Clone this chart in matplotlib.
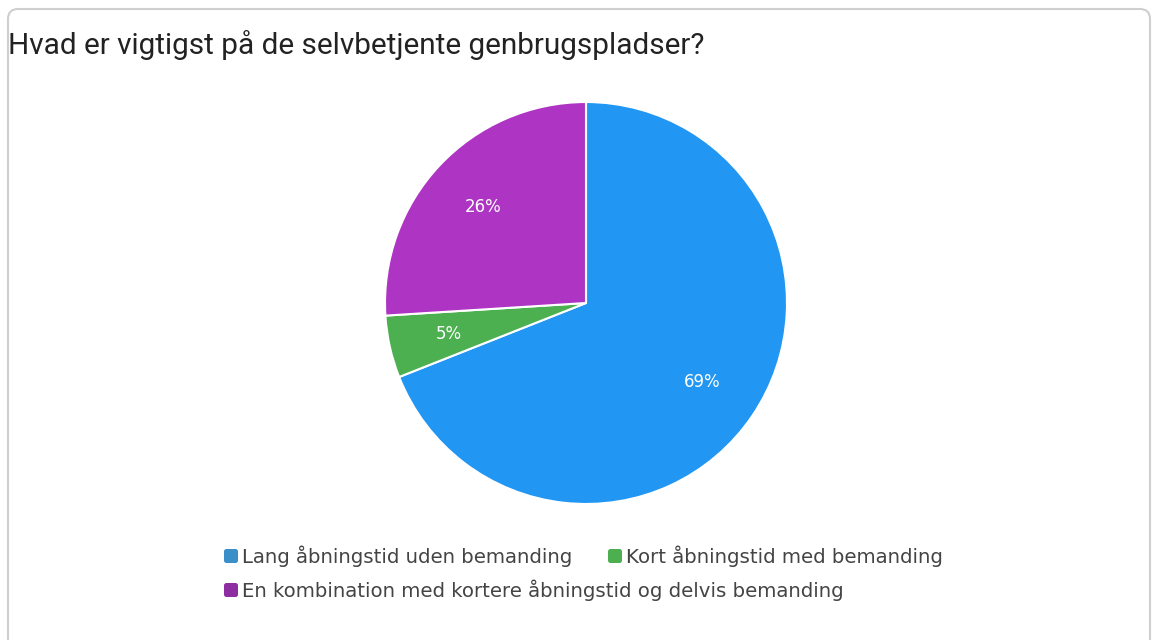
import matplotlib.pyplot as plt
from matplotlib.patches import FancyBboxPatch

title = "Hvad er vigtigst på de selvbetjente genbrugspladser?"
labels = ["Lang åbningstid uden bemanding",
          "Kort åbningstid med bemanding",
          "En kombination med kortere åbningstid og delvis bemanding"]
values = [69, 5, 26]
colors = ["#2196F3", "#4CAF50", "#AE35C3"]
legend_colors = ["#3A8FC8", "#4CAF50", "#8E2DA2"]

W, H = 1152, 640
fig = plt.figure(figsize=(W / 100, H / 100), dpi=100)

# background axes in pixel coords for frame, title and legend
bg = fig.add_axes([0, 0, 1, 1])
bg.set_xlim(0, W)
bg.set_ylim(H, 0)
bg.axis("off")
bg.add_patch(FancyBboxPatch((8, 9), 1142, 660, boxstyle="round,pad=0,rounding_size=10",
                            fc="white", ec="#cfcfcf", lw=1.5))
bg.text(8, 45, title, fontsize=21.4, family="Roboto", color="#222222", va="center", ha="left")

# pie
cx, cy, r = 586, 303, 203
pax = fig.add_axes([(cx - r) / W, (H - cy - r) / H, 2 * r / W, 2 * r / H])
wedges, _, autotexts = pax.pie(values, colors=colors, startangle=90, counterclock=False,
                               autopct="%d%%", pctdistance=0.7, radius=1,
                               wedgeprops=dict(edgecolor="white", linewidth=1.5),
                               textprops=dict(color="white", fontsize=12, family="DejaVu Sans"))
pax.set_xlim(-1.01, 1.01)
pax.set_ylim(-1.01, 1.01)
pax.set_aspect("equal")

# legend drawn by hand to match the wrapped layout
legend_pos = [(224, 556), (608, 556), (224, 590)]
for (x, y), lab, c in zip(legend_pos, labels, legend_colors):
    bg.add_patch(FancyBboxPatch((x, y - 7), 14, 14, boxstyle="round,pad=0,rounding_size=2.5",
                                fc=c, ec="none"))
    bg.text(x + 18, y, lab, fontsize=14.2, family="DejaVu Sans", color="#444444",
            va="center", ha="left")

fig.savefig("out.png", dpi=100)
